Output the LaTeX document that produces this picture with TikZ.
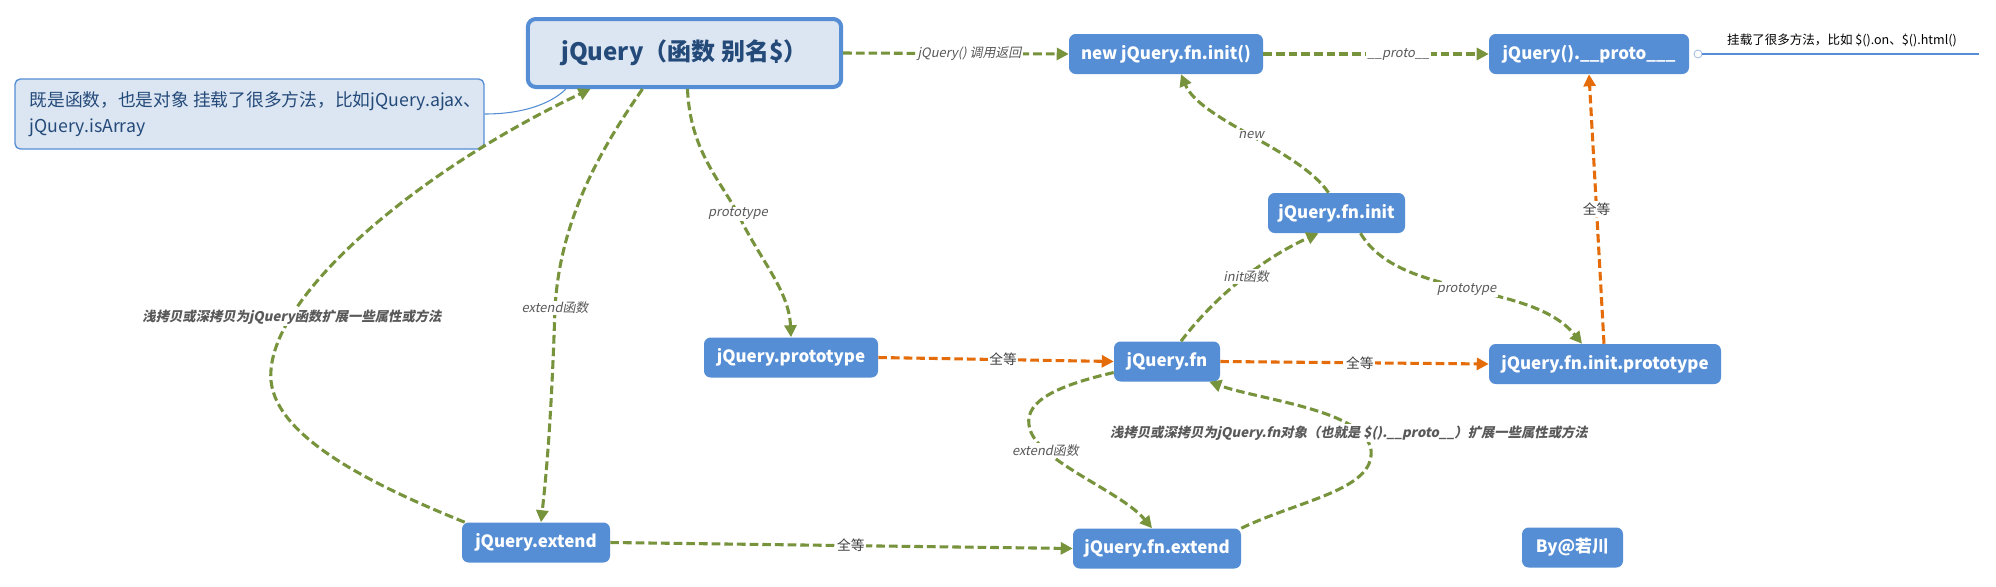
\documentclass[tikz,border=0pt]{standalone}
\usepackage{fontspec}
\setmainfont{Noto Sans CJK SC}
\newfontfamily\slfont{Noto Sans CJK SC}[FakeSlant=0.2]
\usetikzlibrary{arrows.meta,calc}
\definecolor{nodeblue}{HTML}{558ED5}
\definecolor{mainfill}{HTML}{DCE6F2}
\definecolor{titleblue}{HTML}{244A7A}
\definecolor{edgegreen}{HTML}{77933C}
\definecolor{edgeorange}{HTML}{E46C0A}
\definecolor{labelgray}{HTML}{595959}
\definecolor{eqgray}{HTML}{404040}
\definecolor{knobblue}{HTML}{9DB9E3}
\begin{document}
\begin{tikzpicture}[x=0.75pt,y=-0.75pt,
  box/.style={fill=nodeblue, rounded corners=5pt, text=white, font=\bfseries\fontsize{12.7}{15}\selectfont, minimum height=30pt, inner sep=2pt},
  mainbox/.style={fill=mainfill, draw=nodeblue, line width=3pt, rounded corners=6pt, text=titleblue, font=\bfseries\fontsize{18}{20}\selectfont, minimum width=235pt, minimum height=51pt},
  commentbox/.style={fill=mainfill, draw=nodeblue, line width=1pt, rounded corners=4pt},
  conn/.style={draw=edgegreen, line width=2.3pt, dash pattern=on 6.5pt off 3pt, -{Triangle[length=9pt,width=9pt]}},
  eq/.style={conn, draw=edgeorange},
  lbl/.style={font=\slfont\fontsize{9.7}{11}\selectfont, text=labelgray, fill=white, inner sep=1pt},
  blbl/.style={font=\slfont\bfseries\fontsize{10}{12}\selectfont, text=labelgray, fill=white, inner sep=1pt},
  eqlbl/.style={font=\fontsize{10.3}{12}\selectfont, text=eqgray, fill=white, inner sep=1pt},
]
\fill[white] (0,0) rectangle (1996,586);
\useasboundingbox (0,0) rectangle (1996,586);

% nodes
\node[mainbox] (main) at (684.5,53) {jQuery（函数 别名\$）};
\node[commentbox, minimum width=351.75pt, minimum height=52.5pt] (comment) at (249.5,114) {};
\node[anchor=west, align=left, font=\fontsize{13.3}{20}\selectfont, text=titleblue, inner sep=0pt] (commenttext) at ($(comment.west)+(15,0)$) {既是函数，也是对象 挂载了很多方法，比如jQuery.ajax、\\jQuery.isArray};
\node[box, minimum width=145.5pt] (newinit) at (1166,54) {new jQuery.fn.init()};
\node[box, minimum width=150pt] (proto) at (1589,54) {jQuery().\_\_proto\_\_\_};
\node[box, minimum width=102.75pt] (fninit) at (1336.5,213) {jQuery.fn.init};
\node[box, minimum width=130.5pt] (prototype) at (791,357.5) {jQuery.prototype};
\node[box, minimum width=79.5pt] (fn) at (1167,361.5) {jQuery.fn};
\node[box, minimum width=174pt] (fninitproto) at (1605,364) {jQuery.fn.init.prototype};
\node[box, minimum width=111pt] (extend) at (536,542.5) {jQuery.extend};
\node[box, minimum width=126pt] (fnextend) at (1157,548.5) {jQuery.fn.extend};
\node[box, minimum width=75.75pt] (by) at (1572.5,547.5) {By@若川};

% note at top right
\node[circle, draw=knobblue, fill=white, line width=0.6pt, minimum size=6pt, inner sep=0pt] (knob) at (1698,54) {};
\coordinate (noteend) at (1979,54);
\draw[nodeblue, line width=1.5pt] (knob.east) -- (noteend);
\node[font=\fontsize{9.4}{11}\selectfont, text=black, inner sep=0pt] (note) at (1842,40) {挂载了很多方法，比如 \$().on、\$().html()};

% comment connector
\draw[nodeblue, line width=0.8pt] (comment.east) .. controls (530,114) and (555,100) .. ($(main.south west)+(40,0)$);

% edges
\draw[conn] (main.east) -- node[lbl, pos=0.56] {jQuery() 调用返回} (newinit.west);
\draw[conn] (newinit.east) -- node[lbl, pos=0.6] {\_\_proto\_\_} (proto.west);
\draw[conn] ($(main.south)+(3,0)$) .. controls (690,150) and (720,180) .. (738,214) node[lbl] {prototype} .. controls (760,260) and (789,290) .. (prototype.north);
\draw[conn] ($(main.south)+(-42,0)$) .. controls (600,150) and (560,220) .. (555,308) node[lbl] {extend函数} .. controls (552,400) and (548,460) .. ($(extend.north)+(5,0)$);
\draw[conn] ($(extend.north west)+(3,0)$) .. controls (360,480) and (265,430) .. (271,370) .. controls (277,290) and (420,170) .. ($(main.south)+(-94,0)$);
\node[blbl] (lblE) at (292,317) {浅拷贝或深拷贝为jQuery函数扩展一些属性或方法};

\draw[eq] (prototype.east) -- node[eqlbl,pos=0.53] {全等} (fn.west);
\draw[eq] (fn.east) -- node[eqlbl,pos=0.52] {全等} (fninitproto.west);
\draw[eq] ($(fninitproto.north)+(-1,0)$) -- node[eqlbl,pos=0.5] {全等} (proto.south);

\draw[conn] ($(fn.north)+(14,0)$) .. controls (1220,290) and (1270,255) .. ($(fninit.south)+(-18,0)$) node[lbl,pos=0.5] {init函数};
\draw[conn] ($(fninit.north)+(-8,0)$) .. controls (1300,150) and (1200,120) .. ($(newinit.south)+(15,0)$) node[lbl,pos=0.5] {new};
\draw[conn] ($(fninit.south)+(24,0)$) .. controls (1400,300) and (1530,280) .. ($(fninitproto.north)+(-23,0)$) node[lbl,pos=0.5] {prototype};

\draw[conn] ($(fn.west)+(0,11)$) .. controls (1060,385) and (1025,400) .. (1029,425) .. controls (1033,460) and (1120,490) .. ($(fnextend.north)+(-5,0)$) node[lbl,pos=0.25] {extend函数};
\draw[conn] (fnextend.north east) .. controls (1300,500) and (1375,490) .. (1371,450) .. controls (1365,410) and (1260,400) .. ($(fn.south east)+(-11,0)$);
\node[blbl] (lblM) at (1349,433) {浅拷贝或深拷贝为jQuery.fn对象（也就是 \$().\_\_proto\_\_）扩展一些属性或方法};

\draw[conn] (extend.east) -- node[eqlbl,pos=0.52] {全等} (fnextend.west);
\end{tikzpicture}
\end{document}
